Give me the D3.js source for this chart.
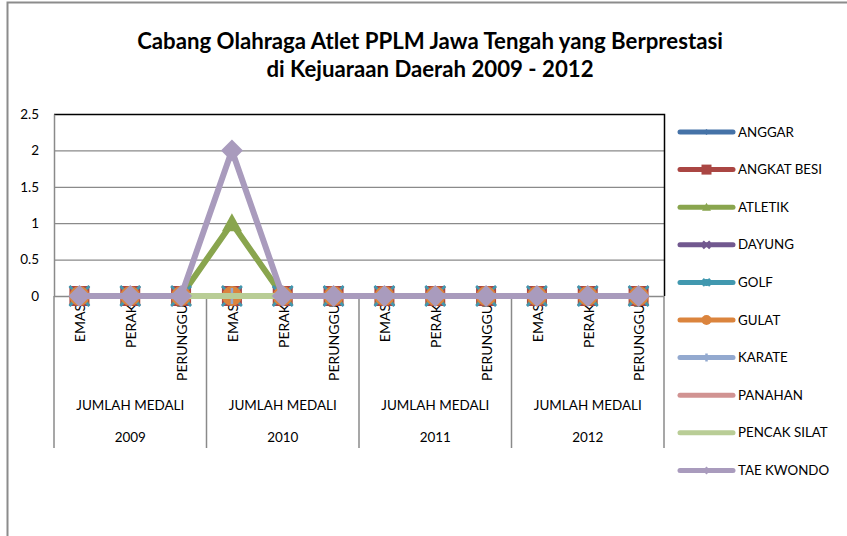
<!DOCTYPE html>
<html><head><meta charset="utf-8">
<script src="https://cdn.jsdelivr.net/npm/d3@7"></script>
<style>
html,body{margin:0;padding:0;background:#fff;}
svg text{font-family:Lato,"Noto Sans",sans-serif;fill:#000;}
</style></head>
<body><svg id="c" width="847" height="536"></svg>
<script>
// ---- data ----
const years = ["2009", "2010", "2011", "2012"];
const groupLabel = "JUMLAH MEDALI";
const medals = ["EMAS", "PERAK", "PERUNGGU"];
const seriesNames = ["ANGGAR","ANGKAT BESI","ATLETIK","DAYUNG","GOLF","GULAT","KARATE","PANAHAN","PENCAK SILAT","TAE KWONDO"];
const seriesColors = ["#4572A7","#AA4643","#89A54E","#71588F","#4198AF","#DB843D","#93A9CF","#D19392","#B9CD96","#A99BBD"];
const seriesMarkers = ["diamond","square","triangle","x","star","circle","plus","none","none","diamondBig"];
const anggar      = [0,0,0, 0,0,0, 0,0,0, 0,0,0];
const angkatBesi  = [0,0,0, 0,0,0, 0,0,0, 0,0,0];
const atletik     = [0,0,0, 1,0,0, 0,0,0, 0,0,0];
const dayung      = [0,0,0, 0,0,0, 0,0,0, 0,0,0];
const golf        = [0,0,0, 0,0,0, 0,0,0, 0,0,0];
const gulat       = [0,0,0, 0,0,0, 0,0,0, 0,0,0];
const karate      = [0,0,0, 0,0,0, 0,0,0, 0,0,0];
const panahan     = [0,0,0, 0,0,0, 0,0,0, 0,0,0];
const pencakSilat = [0,0,0, 0,0,0, 0,0,0, 0,0,0];
const taeKwondo   = [0,0,0, 2,0,0, 0,0,0, 0,0,0];
const seriesValues = [anggar, angkatBesi, atletik, dayung, golf, gulat, karate, panahan, pencakSilat, taeKwondo];
const yTicks = [0, 0.5, 1, 1.5, 2, 2.5];
const titleLines = ["Cabang Olahraga Atlet PPLM Jawa Tengah yang Berprestasi", "di Kejuaraan Daerah 2009 - 2012"];

// ---- layout ----
const svg = d3.select("#c");
const L = 54, R = 664, T = 114, B = 296, AXB = 448;
const cats = [];
years.forEach(y => medals.forEach(m => cats.push(y + "|" + m)));
const x = d3.scalePoint().domain(cats).range([L, R]).padding(0.5);
const xg = d3.scaleBand().domain(years).range([L, R]);
const y = d3.scaleLinear().domain([0, 2.5]).range([B, T]);

// fit a font size so a sample string has the wanted width (Calibri substitute)
function fitSize(sample, targetW, weight) {
  const t = svg.append("text").style("font-size", "20px").style("font-weight", weight || "normal").text(sample);
  const w = t.node().getComputedTextLength();
  t.remove();
  return 20 * targetW / w;
}
const titleSize = fitSize(titleLines[0], 586, "bold");
const grpSize = fitSize(groupLabel, 108);
const catSize = fitSize("PERUNGGU", 77);
const legSize = fitSize("ANGKAT BESI", 84);
const tickSize = Math.min(grpSize, 13.5);

// chart border
svg.append("rect").attr("x", 7.5).attr("y", 2.5).attr("width", 900).attr("height", 600)
  .attr("fill", "none").attr("stroke", "#8c8c8c").attr("stroke-width", 2);

// title
titleLines.forEach((t, i) => {
  svg.append("text").attr("x", 430).attr("y", 41 + i * 28).attr("dy", "0.35em").attr("text-anchor", "middle")
    .style("font-size", titleSize + "px").style("font-weight", "bold").text(t);
});

// gridlines
svg.append("g").selectAll("line").data(yTicks.filter(d => d > 0)).join("line")
  .attr("x1", L).attr("x2", R).attr("y1", d => y(d) + 0.5).attr("y2", d => y(d) + 0.5)
  .attr("stroke", "#8a8a8a").attr("stroke-width", 1.2);
// plot border top/right
svg.append("path").attr("d", `M${L},${y(2.5)+0.5}H${R+0.5}V${B}`).attr("fill", "none")
  .attr("stroke", "#000").attr("stroke-width", 1.5);

// y axis
const yAxis = svg.append("g").attr("transform", `translate(${L},0)`)
  .call(d3.axisLeft(y).tickValues(yTicks).tickSize(0).tickPadding(15).tickFormat(d3.format("")));
yAxis.select(".domain").attr("stroke", "#8a8a8a").attr("stroke-width", 1.5);
yAxis.selectAll("text").style("font-size", tickSize + "px");

// x axis (multi-level)
const ax = svg.append("g");
ax.append("line").attr("x1", L).attr("x2", R).attr("y1", B + 0.5).attr("y2", B + 0.5).attr("stroke", "#8a8a8a").attr("stroke-width", 1.5);
const seps = [L].concat(years.map(yy => xg(yy) + xg.bandwidth()));
ax.selectAll("line.sep").data(seps).join("line").attr("class", "sep")
  .attr("x1", d => d).attr("x2", d => d).attr("y1", B).attr("y2", AXB)
  .attr("stroke", "#8a8a8a").attr("stroke-width", 1.5);
ax.selectAll("text.cat").data(cats).join("text").attr("class", "cat")
  .attr("transform", d => `translate(${x(d) + 1},${B + 8}) rotate(-90)`)
  .attr("text-anchor", "end").attr("dy", "0.35em").style("font-size", catSize + "px")
  .text(d => d.split("|")[1]);
ax.selectAll("text.grp").data(years).join("text").attr("class", "grp")
  .attr("x", d => xg(d) + xg.bandwidth() / 2).attr("y", 405).attr("dy", "0.35em")
  .attr("text-anchor", "middle").style("font-size", grpSize + "px").text(groupLabel);
ax.selectAll("text.yr").data(years).join("text").attr("class", "yr")
  .attr("x", d => xg(d) + xg.bandwidth() / 2).attr("y", 437).attr("dy", "0.35em")
  .attr("text-anchor", "middle").style("font-size", grpSize + "px").text(d => d);

// markers
function drawMarker(g, type, cx, cy, s, color) {
  const h = s / 2;
  if (type === "diamond" || type === "diamondBig") {
    g.append("path").attr("d", `M${cx},${cy-h}L${cx+h},${cy}L${cx},${cy+h}L${cx-h},${cy}Z`).attr("fill", color);
  } else if (type === "square") {
    g.append("rect").attr("x", cx - h).attr("y", cy - h).attr("width", s).attr("height", s).attr("fill", color);
  } else if (type === "triangle") {
    g.append("path").attr("d", `M${cx},${cy-h}L${cx+h},${cy+h*0.8}L${cx-h},${cy+h*0.8}Z`).attr("fill", color);
  } else if (type === "circle") {
    g.append("circle").attr("cx", cx).attr("cy", cy).attr("r", h).attr("fill", color);
  } else if (type === "x") {
    g.append("path").attr("d", `M${cx-h},${cy-h}L${cx+h},${cy+h}M${cx-h},${cy+h}L${cx+h},${cy-h}`).attr("stroke", color).attr("stroke-width", 2.5);
  } else if (type === "star") {
    g.append("path").attr("d", `M${cx-h},${cy-h}L${cx+h},${cy+h}M${cx-h},${cy+h}L${cx+h},${cy-h}M${cx},${cy-h}V${cy+h}`).attr("stroke", color).attr("stroke-width", 2.5);
  } else if (type === "plus") {
    g.append("path").attr("d", `M${cx-h},${cy}H${cx+h}M${cx},${cy-h}V${cy+h}`).attr("stroke", color).attr("stroke-width", 2.5);
  }
}

// series
const line = d3.line().x((d, i) => x(cats[i])).y(d => y(d));
const plotSizes = {diamond: 12, square: 20, triangle: 20, x: 19, star: 20, circle: 20, plus: 16, diamondBig: 22};
seriesNames.forEach((name, si) => {
  const g = svg.append("g");
  g.append("path").datum(seriesValues[si]).attr("d", line).attr("fill", "none")
    .attr("stroke", seriesColors[si]).attr("stroke-width", 6).attr("stroke-linejoin", "round");
  if (seriesMarkers[si] !== "none") {
    seriesValues[si].forEach((v, i) => drawMarker(g, seriesMarkers[si], x(cats[i]), y(v), plotSizes[seriesMarkers[si]], seriesColors[si]));
  }
});

// legend
const legSizes = {diamond: 6, square: 10, triangle: 9, x: 7, star: 7, circle: 10, plus: 8, diamondBig: 8};
const leg = svg.append("g");
seriesNames.forEach((name, si) => {
  const ly = 132 + si * 37.6;
  const g = leg.append("g");
  g.append("line").attr("x1", 680).attr("x2", 733).attr("y1", ly).attr("y2", ly)
    .attr("stroke", seriesColors[si]).attr("stroke-width", 5).attr("stroke-linecap", "round");
  if (seriesMarkers[si] !== "none") drawMarker(g, seriesMarkers[si], 706.5, ly, legSizes[seriesMarkers[si]], seriesColors[si]);
  g.append("text").attr("x", 738).attr("y", ly).attr("dy", "0.35em").style("font-size", legSize + "px").text(name);
});
</script></body></html>
